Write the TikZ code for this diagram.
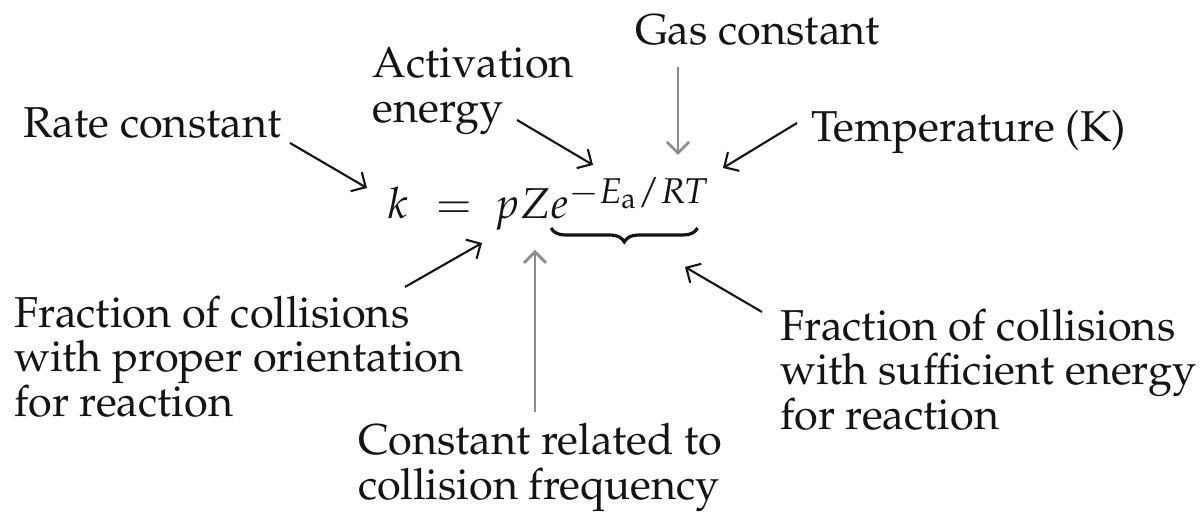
\documentclass[tikz,border=0pt]{standalone}
\usepackage[T1]{fontenc}
\usepackage{mathpazo}
\usetikzlibrary{arrows.meta,calc,positioning,decorations.pathreplacing}
\DeclareMathSizes{12.3}{12.3}{10.2}{8.2}
\definecolor{ink}{RGB}{20,20,20}
\definecolor{greyarr}{RGB}{140,140,140}

\begin{document}
\begin{tikzpicture}[
  every node/.style={inner sep=0pt, outer sep=0pt, text=ink},
  lbl/.style={anchor=base west, align=left, font=\fontsize{12.3}{12.8}\selectfont},
  eqn/.style={font=\fontsize{12.3}{12.8}\selectfont},
  arr/.style={ink, line width=0.6pt, -{Straight Barb[length=1.1mm,width=2.2mm]}},
  garr/.style={arr, greyarr, line width=0.8pt}
]
\useasboundingbox (0,0) rectangle (12,5.12);
% labels round the equation (base = last line)
\node[lbl] (rate) at (0.24,3.74) {Rate constant};
\node[lbl] (act)  at (3.73,3.89) {Activation\\energy};
\node[lbl] (gas)  at (6.35,4.67) {Gas constant};
\node[lbl] (temp) at (8.11,3.70) {Temperature (K)};
\node[lbl] (fracp) at (0.14,0.95) {Fraction of collisions\\with proper orientation\\for reaction};
\node[lbl] (freq) at (3.58,0.12) {Constant related to\\collision frequency};
\node[lbl] (frace) at (7.80,0.82) {Fraction of collisions\\with sufficient energy\\for reaction};
% the equation, one piece per node
\node[eqn, anchor=base west] (k) at (3.88,2.93) {$k$};
\node[eqn, anchor=base] (eqs) at (4.54,2.93) {$=$};
\node[eqn, anchor=base west] (p) at (4.95,2.93) {$p$};
\node[eqn, base right=0pt of p] (Z) {$Z$};
\node[eqn, base right=0pt of Z] (ex) {$e^{-E_\mathrm{a}/RT}$};
\draw[ink, line width=0.9pt, decorate, decoration={brace, mirror, amplitude=0.14cm}]
  ($(ex.base west)+(0,-0.09)$) -- ($(ex.base east)+(-0.12,-0.09)$);
% arrow ends
\coordinate (rate-a) at (2.90,3.69);  \coordinate (ktip) at (3.67,3.24);
\coordinate (act-a)  at (5.17,3.92);  \coordinate (Etip) at (5.93,3.47);
\coordinate (gas-a)  at (6.78,4.45);  \coordinate (Rtip) at (6.78,3.57);
\coordinate (temp-a) at (7.97,3.89);  \coordinate (Ttip) at (7.23,3.44);
\coordinate (fracp-a) at (4.05,2.25); \coordinate (ptip) at (4.82,2.69);
\coordinate (freq-a) at (5.35,1.00);  \coordinate (Ztip) at (5.35,2.62);
\coordinate (frace-a) at (7.62,2.00); \coordinate (btip) at (6.85,2.45);
\draw[arr] (rate-a) -- (ktip);
\draw[arr] (act-a) -- (Etip);
\draw[garr] (gas-a) -- (Rtip);
\draw[arr] (temp-a) -- (Ttip);
\draw[arr] (fracp-a) -- (ptip);
\draw[garr] (freq-a) -- (Ztip);
\draw[arr] (frace-a) -- (btip);
\end{tikzpicture}
\end{document}
